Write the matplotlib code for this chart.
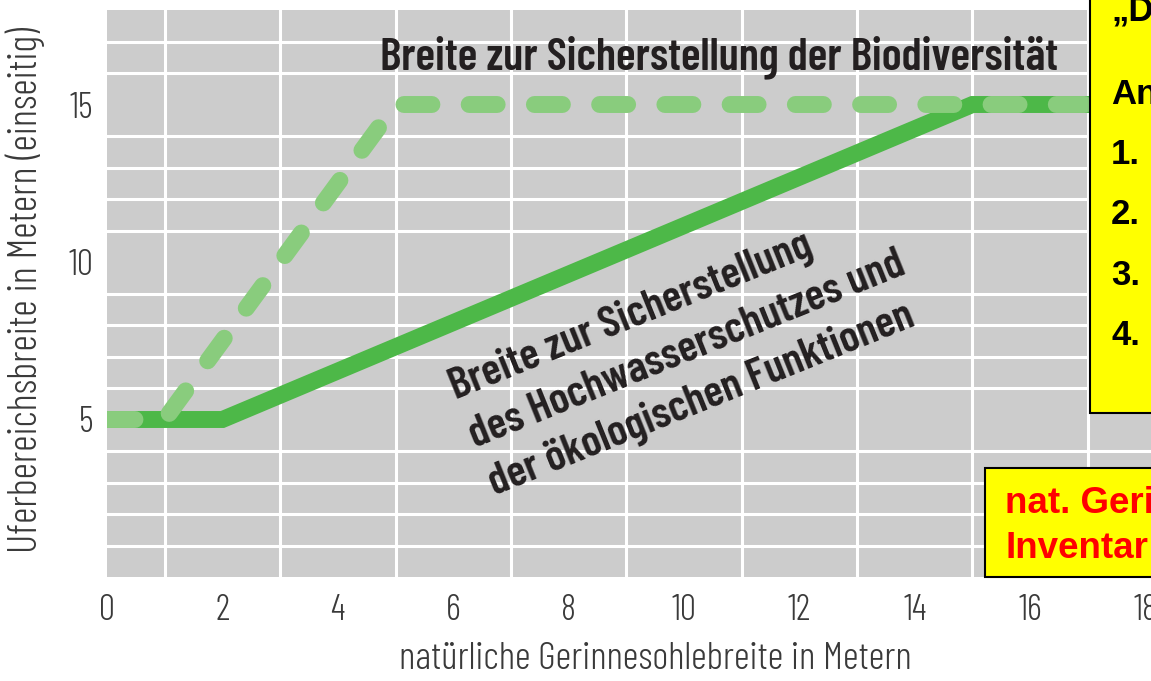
import matplotlib
matplotlib.use("Agg")
import matplotlib.pyplot as plt
from matplotlib.patches import Rectangle

# data
sohle = [0, 2, 15, 18.2]
hochwasser = [5, 5, 15, 15]
sohle_bio = [0, 1, 5, 18.2]
biodiv = [5, 5, 15, 15]
x_ticks = [0, 2, 4, 6, 8, 10, 12, 14, 16, 18]
y_ticks = [5, 10, 15]

cond = "Barlow Condensed"
dark = "#231f20"
grey_txt = "#3a3a3a"
solid_green = "#4db848"
light_green = "#89cc7d"

fig = plt.figure(figsize=(11.51, 6.81), dpi=100)
ax = fig.add_axes([107 / 1151, 104 / 681, 1044 / 1151, 567 / 681])
ax.set_facecolor("#cccccc")
ax.set_xlim(0, 1044 / 57.7)
ax.set_ylim(0, 18)

# white grid every 1 m
ax.set_xticks(range(1, 19), minor=True)
ax.set_yticks(range(1, 18), minor=True)
ax.grid(which="minor", color="white", linewidth=2.2)
ax.set_axisbelow(True)
for s in ax.spines.values():
    s.set_visible(False)

ax.set_xticks(x_ticks)
ax.set_yticks(y_ticks)
ax.tick_params(which="both", length=0)
ax.tick_params(axis="x", pad=12)
ax.tick_params(axis="y", pad=10)
for lab in ax.get_xticklabels() + ax.get_yticklabels():
    lab.set_fontfamily(cond)
    lab.set_fontweight(300)
    lab.set_fontsize(26)
    lab.set_color(grey_txt)

ax.plot(sohle, hochwasser, color=solid_green, linewidth=12.2,
        solid_joinstyle="miter", solid_capstyle="butt")
ax.plot(sohle_bio, biodiv, color=light_green, linewidth=12.2,
        dashes=(1.65, 2.2), dash_capstyle="round")

ax.text(10.6, 16.5, "Breite zur Sicherstellung der Biodiversität",
        ha="center", va="center", fontsize=33, fontweight=600,
        fontfamily=cond, color=dark)
ax.text(6.31, 4.44,
        "Breite zur Sicherstellung\ndes Hochwasserschutzes und\nder ökologischen Funktionen",
        ha="left", va="center", multialignment="left", rotation=22,
        rotation_mode="anchor", fontsize=32, fontweight=600,
        fontfamily=cond, color=dark, linespacing=1.38)

ax.set_xlabel("natürliche Gerinnesohlebreite in Metern", fontfamily=cond,
              fontweight=300, fontsize=28, color=grey_txt)
ax.xaxis.set_label_coords((655 - 107) / 1044, -(642 - 577) / 567)
ax.set_ylabel("Uferbereichsbreite in Metern (einseitig)", fontfamily=cond,
              fontweight=300, fontsize=29, color=grey_txt)
ax.yaxis.set_label_coords(-(107 - 45) / 1044, (577 - 290) / 567)

# yellow boxes cut at the right edge
fig.patches.append(Rectangle((1090 / 1151, (681 - 413) / 681), 0.2, 0.7,
                             transform=fig.transFigure, facecolor="#ffff00",
                             edgecolor="black", linewidth=1.5, zorder=5))
fig.patches.append(Rectangle((985 / 1151, (681 - 577) / 681), 0.2, 109 / 681,
                             transform=fig.transFigure, facecolor="#ffff00",
                             edgecolor="black", linewidth=1.5, zorder=5))

box_lines = [("„D", 21), ("An", 104), ("1.", 164), ("2.", 224), ("3.", 285), ("4.", 345)]
for txt, ypx in box_lines:
    fig.text(1111 / 1151, 1 - ypx / 681, txt, ha="left", va="baseline",
             fontsize=25, fontweight="bold", fontfamily="Liberation Sans",
             color="black", zorder=6)
for txt, ypx in [("nat. Geri", 513), ("Inventar", 558)]:
    fig.text(1005 / 1151, 1 - ypx / 681, txt, ha="left", va="baseline",
             fontsize=26.5, fontweight="bold", fontfamily="Liberation Sans",
             color="#ff0000", zorder=6)

fig.savefig("out.png", dpi=100)
